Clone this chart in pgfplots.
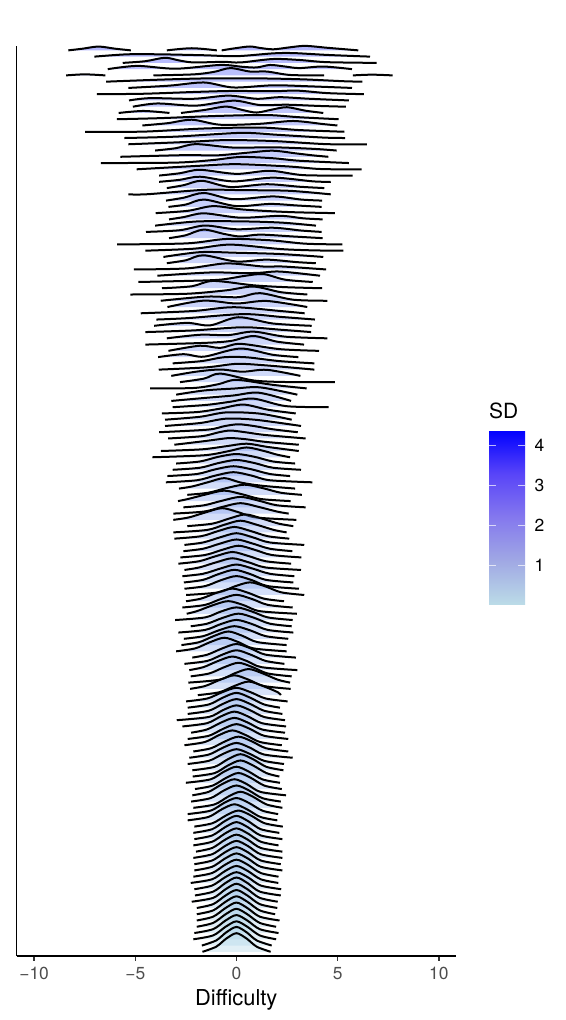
\documentclass[border=0pt]{standalone}
\usepackage{pgfplots}
\pgfplotsset{compat=1.18}
\usepackage{fontspec}
\setmainfont{TeX Gyre Heros}
\definecolor{cbase}{RGB}{173,216,230}
\definecolor{ticklab}{RGB}{77,77,77}
\definecolor{tickcol}{RGB}{51,51,51}
% one ridge: #1 row, #2 percent of blue, #3 points (x, density above the row)
\newcommand\R[3]{%
  \addplot[fill=blue!#2!cbase, fill opacity=.34, draw=none, smooth, forget plot, y filter/.expression={y+#1}] coordinates {#3};
  \addplot[black, line width=2bp, smooth, forget plot, y filter/.expression={y+#1}] coordinates {#3};
}
\begin{document}
\begin{tikzpicture}
\useasboundingbox (0,0) rectangle (566bp,1020bp);
\begin{axis}[
  at={(16.5bp,64bp)}, anchor=south west,
  scale only axis, width=439.5bp, height=910bp,
  xmin=-10.87, xmax=10.85, ymin=0.36, ymax=145.73,
  axis x line*=bottom, axis y line*=left,
  axis line style={line width=1.8bp},
  clip=false,
  ytick=\empty,
  xtick={-10,-5,0,5,10},
  xticklabels={−10,−5,0,5,10},
  xticklabel style={font=\fontsize{17.5}{20}\selectfont, text=ticklab, yshift=-3bp},
  tick align=outside, tick style={tickcol, line width=1.4bp}, major tick length=5bp,
  xlabel={Difficulty},
  xlabel style={font=\fontsize{22}{26}\selectfont, yshift=-2bp},
  colormap={sd}{rgb255=(187,219,231) rgb255=(160,168,228) rgb255=(132,120,238) rgb255=(88,68,248) rgb255=(0,0,255)},
  point meta min=0.03, point meta max=4.375,
  colorbar,
  colorbar/width=36bp,
  colorbar style={
    at={(1.0751,0.578)}, anchor=north west,
    scale only axis, height=174bp,
    axis line style={draw=none},
    ytick={1,2,3,4}, yticklabels={1,2,3,4},
    yticklabel pos=right,
    yticklabel style={font=\fontsize{17.5}{20}\selectfont, text=black, xshift=6bp},
    tick align=inside, ytick pos=both, major tick length=7bp,
    tick style={white, line width=.8bp, opacity=.7},
  },
]
\R{145}{80}{(-8.31,.03)(-7.6,.3)(-6.82,.64)(-6,.3)(-5.22,.03)}
\R{145}{80}{(-3.44,.03)(-2.8,.25)(-2.21,.37)(-1.6,.25)(-.97,.03)}
\R{145}{80}{(-.73,.03)(0,.4)(.67,.65)(1.2,.4)(1.82,.2)(2.6,.5)(3.39,.75)(4.46,.45)(5.2,.25)(6.02,.03)}
\R{144}{76}{(-7.02,.03)(-5.4,.4)(-3.8,.4)(-1.6,.25)(0,.1)(1.8,.55)(2.8,.6)(4.5,.3)(6.6,.03)}
\R{143}{72}{(-5.62,.03)(-4.5,.3)(-3.53,.85)(-2.8,.4)(-2.1,.1)(-.65,.2)(.2,.1)(1.8,.65)(3.1,.5)(4.45,.15)(6.93,.03)}
\R{142}{70}{(-6.36,.03)(-4.9,.55)(-3,.1)(-.8,.7)(.3,.4)(1,.3)(1.66,.7)(2.4,.45)(3.1,.2)(4.3,.45)(5.71,.03)}
\R{141}{68}{(-8.42,.03)(-7.5,.2)(-6.48,.03)}
\R{141}{68}{(-4.1,.03)(-2.1,.2)(-1.1,.6)(-.3,1.2)(.67,.65)(1.5,.65)(2.65,.1)(4.33,.03)}
\R{141}{68}{(5.75,.03)(6.7,.15)(7.72,.03)}
\R{140}{66}{(-6.44,.03)(-3.8,.35)(-1.5,.55)(1.2,.55)(3.3,.4)(5.3,.1)(6.22,.03)}
\R{139}{64}{(-5.34,.03)(-3.3,.4)(-1.6,.9)(-.15,.1)(1.8,.45)(3.5,.3)(5.71,.03)}
\R{138}{62}{(-6.9,.03)(-4.6,.1)(-1.96,.4)(-.15,.55)(1.8,.5)(3,.6)(4.5,.2)(6.3,.03)}
\R{137}{60}{(-5.31,.03)(-4.27,.4)(-2.1,.3)(-.4,.8)(1,.3)(2.15,.55)(3.6,.3)(5.56,.03)}
\R{136}{60}{(-5.12,.03)(-3.9,.55)(-2,.2)(-.15,1)(1.15,.3)(2.5,.35)(4.1,.15)(5.41,.03)}
\R{135}{58}{(-5.82,.03)(-4.6,.35)(-3.31,.03)}
\R{135}{58}{(-2.74,.03)(-1.6,.5)(-.5,1.05)(.3,.5)(1,.1)(1.8,.6)(2.5,.95)(3.4,.4)(4.29,.03)}
\R{134}{56}{(-5.91,.03)(-3.8,.2)(-1,.55)(1.5,.7)(3.1,.35)(5.05,.03)}
\R{133}{56}{(-4.65,.03)(-3.4,.4)(-2.2,.95)(-.8,.15)(1.15,.3)(2.8,.75)(4.3,.25)(4.99,.03)}
\R{132}{54}{(-7.48,.03)(-4.6,.05)(-1.6,.55)(1.2,.7)(3.1,.3)(5.33,.03)}
\R{131}{54}{(-5.54,.03)(-3,.25)(.2,.85)(2,.55)(4.3,.1)(5.37,.03)}
\R{130}{52}{(-5.34,.03)(-2.45,.4)(-.5,.7)(1.8,.55)(4.45,.05)(6.44,.03)}
\R{129}{52}{(-4.02,.03)(-3,.4)(-2,1.05)(-.15,.5)(1.8,.55)(3.8,.3)(4.95,.03)}
\R{128}{50}{(-5.74,.03)(-2.45,.3)(-1,.25)(.6,.7)(1.8,1)(3,.55)(3.8,.25)(4.54,.03)}
\R{127}{50}{(-6.7,.03)(-3,.1)(-1.2,.5)(.2,1)(1.8,.8)(3.1,.4)(5.56,.03)}
\R{126}{50}{(-4.93,.03)(-1.8,.6)(0,.85)(2.5,.5)(4,.1)(5,.03)(6.19,.03)}
\R{125}{48}{(-3.82,.03)(-2.8,.4)(-1.8,.95)(0,.3)(1.66,.8)(3.3,.1)(5.74,.03)}
\R{124}{48}{(-3.82,.03)(-2.8,.35)(-1.8,.85)(-.15,.1)(1.8,.7)(3.8,.1)(4.66,.03)}
\R{123}{48}{(-3.44,.03)(-2.6,.5)(-1.7,1.2)(-.3,.2)(1.5,.65)(3.1,.25)(4.34,.03)}
\R{122}{48}{(-5.34,.03)(-4.4,.05)(-1.6,.75)(.3,.7)(2.6,.6)(4.66,.03)}
\R{121}{46}{(-3.48,.03)(-2.6,.5)(-1.6,1.25)(-.15,.25)(1.8,.7)(3.2,.2)(4.23,.03)}
\R{120}{46}{(-3.36,.03)(-2.5,.4)(-1.6,1.2)(0,.15)(1.65,.5)(3,.25)(4.21,.03)}
\R{119}{46}{(-3.99,.03)(-2.4,.4)(-1.15,1.15)(.35,.6)(2.6,.2)(4.86,.03)}
\R{118}{46}{(-3.33,.03)(-2.6,.4)(-1.6,1)(.2,.3)(2.15,.6)(3.3,.2)(4.26,.03)}
\R{117}{44}{(-4.02,.03)(-1.95,.7)(.5,.7)(2.3,.5)(3.93,.03)}
\R{116}{44}{(-4.47,.03)(-2.8,.3)(-1.55,1.05)(0,.45)(1.8,.7)(3.2,.25)(4.21,.03)}
\R{115}{44}{(-3.33,.03)(-2.5,.5)(-1.63,1.4)(-.6,.7)(.18,.3)(1.16,.6)(2.8,.3)(4.26,.03)}
\R{114}{44}{(-5.9,.03)(-2.45,.2)(-.5,.9)(1.65,.7)(3.4,.15)(5.23,.03)}
\R{113}{44}{(-4.5,.03)(-2.1,.35)(-.3,1)(2.15,.3)(3.8,.08)(5.28,.03)}
\R{112}{42}{(-3.61,.03)(-1.8,.8)(0,.7)(2.15,.5)(4.29,.03)}
\R{111}{42}{(-3.44,.03)(-2.5,.5)(-1.63,1.3)(0,.3)(1.5,.6)(3,.2)(3.92,.03)}
\R{110}{42}{(-5.07,.03)(-2.45,.2)(-.5,1)(1.33,.5)(2.3,.5)(4.43,.03)}
\R{109}{42}{(-3.91,.03)(-1.3,.55)(.3,.45)(1.16,.5)(2.15,.7)(4.13,.03)}
\R{108}{40}{(-4.85,.03)(-2.45,.2)(-.8,.4)(.4,1)(1.33,1.3)(2.4,.4)(3.77,.03)}
\R{107}{40}{(-3.68,.03)(-2.2,.35)(-1.15,1.2)(.84,.5)(2.45,.2)(4.23,.03)}
\R{106}{40}{(-5.24,.03)(-2.45,.15)(-.5,.7)(.84,1.3)(2.2,.4)(3.5,.03)}
\R{105}{40}{(-3.74,.03)(-1.47,.7)(.1,.6)(1.16,1.25)(2.8,.2)(4.49,.03)}
\R{104}{40}{(-3.41,.03)(-1.63,1.05)(0,.6)(1.5,1)(3.5,.03)}
\R{103}{38}{(-4.73,.03)(-2.1,.4)(-.15,1)(2.15,.4)(3.37,.03)}
\R{102}{38}{(-3.96,.03)(-2.45,.25)(.34,.9)(2.2,.45)(3.88,.03)}
\R{101}{38}{(-4.07,.03)(-2.45,.5)(-1.3,.1)(.1,1.4)(1.8,.4)(3.72,.03)}
\R{100}{38}{(-4.5,.03)(-2.1,.3)(.34,.8)(2.2,.4)(3.69,.03)}
\R{99}{38}{(-3.44,.03)(-1.8,.6)(-.4,.55)(.84,1.1)(2.4,.3)(4.49,.03)}
\R{98}{36}{(-4.5,.03)(-1.6,.3)(-.3,.6)(.84,1.4)(2,.5)(3.34,.03)}
\R{97}{36}{(-3.36,.03)(-1.8,.85)(-.8,.5)(.18,1.15)(2.15,.3)(4.08,.03)}
\R{96}{36}{(-3.87,.03)(-2.6,.5)(-1.6,.1)(.18,1.4)(1.8,.4)(3.06,.03)}
\R{95}{36}{(-3.15,.03)(-1.7,.4)(-.65,1)(.5,1)(2.1,.4)(3.85,.03)}
\R{94}{36}{(-3.84,.03)(-1.47,.4)(0,.95)(1.5,.7)(3.85,.03)}
\R{93}{34}{(-3.22,.03)(-2,.7)(-.8,1.05)(.3,.7)(1.5,1)(3.16,.03)}
\R{92}{34}{(-2.79,.03)(-1.6,.6)(-.8,1.4)(.84,.3)(2.45,.05)(4.86,.03)}
\R{91}{34}{(-4.27,.03)(-2.1,.1)(-.9,.7)(0,1.4)(1.8,.6)(3.47,.03)}
\R{90}{34}{(-2.98,.03)(-1.6,.7)(-.15,1)(1.16,1.2)(3.01,.03)}
\R{89}{34}{(-3.22,.03)(-1.6,.5)(-.15,.9)(1.09,1.35)(2.70,.03)}
\R{88}{32}{(-3.15,.03)(-1.47,.4)(-.3,.9)(.84,1.4)(2.45,.2)(4.56,.03)}
\R{87}{32}{(-3.69,.03)(-1.96,.25)(-.8,.8)(.34,1.45)(1.6,.6)(2.93,.03)}
\R{86}{32}{(-3.53,.03)(-1.8,.5)(-.5,1.2)(1.16,1)(2.73,.03)}
\R{85}{32}{(-3.53,.03)(-1.8,.5)(-.5,1.2)(1,1)(3.19,.03)}
\R{84}{32}{(-3.82,.03)(-1.4,.45)(-.6,1)(.1,1.3)(.9,1)(1.8,.5)(3.03,.03)}
\R{83}{31}{(-3.38,.03)(-1.7,.4)(-.9,1)(-.3,1.3)(.5,1)(1.4,.6)(3.42,.03)}
\R{82}{31}{(-3.07,.03)(-1.6,.6)(-.9,.9)(-.3,1.1)(.5,.9)(1.4,.5)(3.08,.03)}
\R{81}{31}{(-3.73,.03)(-1.7,.3)(-.5,.8)(.5,1.2)(1.5,.7)(3.08,.03)}
\R{80}{30}{(-4.15,.03)(-1.6,.35)(-.4,1)(.5,1.6)(1.4,1)(2,.45)(2.65,.03)}
\R{79}{30}{(-2.98,.03)(-1.8,.36)(-.9,1.1)(0,1.55)(.9,1.1)(1.8,.36)(2.9,.03)}
\R{78}{30}{(-3.15,.03)(-1.8,.36)(-.9,1.1)(0,1.6)(.9,1.1)(1.8,.36)(3.19,.03)}
\R{77}{30}{(-3.41,.03)(-1.95,.36)(-1.05,1.1)(-.15,1.6)(.75,1.1)(1.65,.36)(2.65,.03)}
\R{76}{30}{(-3.49,.03)(-1.95,.36)(-1.05,1.1)(-.15,1.65)(.75,1.1)(1.65,.36)(3.75,.03)}
\R{75}{29}{(-2.84,.03)(-2.2,.36)(-1.4,1.05)(-.6,1.7)(.2,1)(1.2,.5)(2.9,.03)}
\R{74}{29}{(-2.43,.03)(-1.4,.36)(-.5,1.1)(.4,1.65)(1.3,1.1)(2.2,.36)(3.23,.03)}
\R{73}{29}{(-2.89,.03)(-2.4,.36)(-1.5,1.1)(-.6,1.7)(.3,1.1)(1.2,.36)(2.68,.03)}
\R{72}{28}{(-2.62,.03)(-1.6,.36)(-.7,1.1)(.2,1.7)(1.1,1.1)(2,.36)(3.42,.03)}
\R{71}{28}{(-3.12,.03)(-1.6,.36)(-.7,1.1)(.2,1.7)(1.1,1.1)(2,.36)(2.58,.03)}
\R{70}{28}{(-3.12,.03)(-2.35,.42)(-1.5,1.25)(-.7,1.9)(.1,1.25)(.95,.42)(2.96,.03)}
\R{69}{28}{(-2.43,.03)(-1.2,.42)(-.35,1.25)(.45,1.9)(1.25,1.25)(2.1,.42)(2.81,.03)}
\R{68}{27}{(-3.12,.03)(-1.45,.42)(-.6,1.25)(.2,1.9)(1,1.25)(1.85,.42)(2.48,.03)}
\R{67}{27}{(-3.07,.03)(-1.75,.42)(-.9,1.25)(-.1,1.9)(.7,1.25)(1.55,.42)(2.61,.03)}
\R{66}{27}{(-2.57,.03)(-1.65,.42)(-.8,1.25)(0,1.9)(.8,1.25)(1.65,.42)(3.35,.03)}
\R{65}{27}{(-2.62,.03)(-1.65,.42)(-.8,1.25)(0,1.9)(.8,1.25)(1.65,.42)(2.76,.03)}
\R{64}{27}{(-2.77,.03)(-1.55,.42)(-.7,1.25)(.1,1.9)(.9,1.25)(1.75,.42)(3.21,.03)}
\R{63}{26}{(-2.87,.03)(-1.85,.42)(-1,1.25)(-.2,1.9)(.6,1.25)(1.45,.42)(2.7,.03)}
\R{62}{26}{(-2.57,.03)(-1.85,.42)(-1,1.25)(-.2,1.9)(.6,1.25)(1.45,.42)(3.19,.03)}
\R{61}{26}{(-2.67,.03)(-1.65,.42)(-.8,1.25)(0,1.9)(.8,1.25)(1.65,.42)(2.86,.03)}
\R{60}{26}{(-2.6,.03)(-1.65,.45)(-.86,1.4)(-.1,2.05)(.66,1.4)(1.45,.45)(2.81,.03)}
\R{59}{26}{(-2.57,.03)(-1.55,.45)(-.76,1.4)(0,2.05)(.76,1.4)(1.55,.45)(3.09,.03)}
\R{58}{25}{(-2.49,.03)(-.88,.45)(-.09,1.4)(.67,2.05)(1.43,1.4)(2.22,.45)(3.35,.03)}
\R{57}{25}{(-2.49,.03)(-1.75,.45)(-.96,1.4)(-.2,2.05)(.56,1.4)(1.35,.45)(2.35,.03)}
\R{56}{25}{(-2.67,.03)(-1.55,.45)(-.76,1.4)(0,2.05)(.76,1.4)(1.55,.45)(2.78,.03)}
\R{55}{25}{(-2.46,.03)(-1.95,.45)(-1.16,1.4)(-.4,2.05)(.36,1.4)(1.15,.45)(2.99,.03)}
\R{54}{25}{(-3.03,.03)(-1.55,.45)(-.76,1.4)(0,2.05)(.76,1.4)(1.55,.45)(2.78,.03)}
\R{53}{24}{(-2.26,.03)(-1.45,.45)(-.66,1.4)(.1,2.05)(.86,1.4)(1.65,.45)(2.73,.03)}
\R{52}{24}{(-2.87,.03)(-1.55,.45)(-.76,1.4)(0,2.05)(.76,1.4)(1.55,.45)(2.81,.03)}
\R{51}{24}{(-2.6,.03)(-1.65,.45)(-.86,1.4)(-.1,2.05)(.66,1.4)(1.45,.45)(2.56,.03)}
\R{50}{24}{(-2.72,.03)(-1.84,.5)(-1.1,1.5)(-.4,2.2)(.3,1.5)(1.04,.5)(2.48,.03)}
\R{49}{24}{(-2.98,.03)(-2.04,.5)(-1.3,1.5)(-.6,2.2)(.1,1.5)(.84,.5)(2.48,.03)}
\R{48}{23}{(-2.18,.03)(-1.44,.5)(-.7,1.5)(0,2.2)(.7,1.5)(1.44,.5)(2.94,.03)}
\R{47}{23}{(-2.57,.03)(-1.44,.5)(-.7,1.5)(0,2.2)(.7,1.5)(1.44,.5)(2.37,.03)}
\R{46}{23}{(-2.33,.03)(-1.64,.5)(-.9,1.5)(-.2,2.2)(.5,1.5)(1.24,.5)(3.01,.03)}
\R{45}{23}{(-2.26,.03)(-1.34,.5)(-.6,1.5)(.1,2.2)(.8,1.5)(1.54,.5)(2.73,.03)}
\R{44}{22}{(-2.38,.03)(-.84,.5)(-.1,1.5)(.6,2.2)(1.3,1.5)(2.04,.5)(2.65,.03)}
\R{43}{22}{(-2.29,.03)(-1.54,.5)(-.8,1.5)(-.1,2.2)(.6,1.5)(1.34,.5)(2.68,.03)}
\R{42}{22}{(-1.91,.03)(-.84,.5)(-.1,1.5)(.6,2.2)(1.3,1.5)(2.04,.5)(2.19,.03)}
\R{41}{22}{(-2.49,.03)(-1.44,.5)(-.7,1.5)(0,2.2)(.7,1.5)(1.44,.5)(2.53,.03)}
\R{40}{21}{(-2.41,.03)(-1.36,.55)(-.66,1.65)(0,2.4)(.66,1.65)(1.36,.55)(2.15,.03)}
\R{39}{21}{(-2.41,.03)(-1.36,.55)(-.66,1.65)(0,2.4)(.66,1.65)(1.36,.55)(2.27,.03)}
\R{38}{21}{(-2.95,.03)(-1.36,.55)(-.66,1.65)(0,2.4)(.66,1.65)(1.36,.55)(2.4,.03)}
\R{37}{21}{(-2.67,.03)(-1.46,.55)(-.76,1.65)(-.1,2.4)(.56,1.65)(1.26,.55)(2.45,.03)}
\R{36}{20}{(-2.24,.03)(-1.46,.55)(-.76,1.65)(-.1,2.4)(.56,1.65)(1.26,.55)(2.4,.03)}
\R{35}{20}{(-2.41,.03)(-1.36,.55)(-.66,1.65)(0,2.4)(.66,1.65)(1.36,.55)(2.56,.03)}
\R{34}{20}{(-2.57,.03)(-1.56,.55)(-.86,1.65)(-.2,2.4)(.46,1.65)(1.16,.55)(2.24,.03)}
\R{33}{20}{(-2.13,.03)(-1.26,.55)(-.56,1.65)(.1,2.4)(.76,1.65)(1.46,.55)(2.56,.03)}
\R{32}{19}{(-2.33,.03)(-1.36,.55)(-.66,1.65)(0,2.4)(.66,1.65)(1.36,.55)(2.78,.03)}
\R{31}{19}{(-2.41,.03)(-1.36,.55)(-.66,1.65)(0,2.4)(.66,1.65)(1.36,.55)(2.35,.03)}
\R{30}{18}{(-2.18,.03)(-1.08,.58)(-.42,1.8)(.2,2.6)(.82,1.8)(1.48,.58)(2.32,.03)}
\R{29}{18}{(-2.16,.03)(-1.08,.58)(-.42,1.8)(.2,2.6)(.82,1.8)(1.48,.58)(2.12,.03)}
\R{28}{18}{(-2.5,.03)(-1.28,.58)(-.62,1.8)(0,2.6)(.62,1.8)(1.28,.58)(2.15,.03)}
\R{27}{17}{(-2.05,.03)(-1.18,.58)(-.52,1.8)(.1,2.6)(.72,1.8)(1.38,.58)(2.24,.03)}
\R{26}{17}{(-2.18,.03)(-1.38,.58)(-.72,1.8)(-.1,2.6)(.52,1.8)(1.18,.58)(2.45,.03)}
\R{25}{17}{(-2.24,.03)(-1.28,.58)(-.62,1.8)(0,2.6)(.62,1.8)(1.28,.58)(2.19,.03)}
\R{24}{16}{(-2.13,.03)(-1.08,.58)(-.42,1.8)(.2,2.6)(.82,1.8)(1.48,.58)(2.27,.03)}
\R{23}{16}{(-2.41,.03)(-1.28,.58)(-.62,1.8)(0,2.6)(.62,1.8)(1.28,.58)(2.06,.03)}
\R{22}{16}{(-2.41,.03)(-1.38,.58)(-.72,1.8)(-.1,2.6)(.52,1.8)(1.18,.58)(2.02,.03)}
\R{21}{15}{(-2.08,.03)(-1.18,.58)(-.52,1.8)(.1,2.6)(.72,1.8)(1.38,.58)(2.29,.03)}
\R{20}{15}{(-2.13,.03)(-1.2,.62)(-.58,1.9)(0,2.75)(.58,1.9)(1.2,.62)(2.12,.03)}
\R{19}{15}{(-2.08,.03)(-1.2,.62)(-.58,1.9)(0,2.75)(.58,1.9)(1.2,.62)(2.27,.03)}
\R{18}{14}{(-2.13,.03)(-1.2,.62)(-.58,1.9)(0,2.75)(.58,1.9)(1.2,.62)(2.08,.03)}
\R{17}{14}{(-2,.03)(-1.2,.62)(-.58,1.9)(0,2.75)(.58,1.9)(1.2,.62)(2.27,.03)}
\R{16}{13}{(-2.13,.03)(-1.2,.62)(-.58,1.9)(0,2.75)(.58,1.9)(1.2,.62)(2.27,.03)}
\R{15}{13}{(-2.08,.03)(-1.2,.62)(-.58,1.9)(0,2.75)(.58,1.9)(1.2,.62)(2.19,.03)}
\R{14}{12}{(-2.08,.03)(-1.2,.62)(-.58,1.9)(0,2.75)(.58,1.9)(1.2,.62)(2.27,.03)}
\R{13}{12}{(-2.13,.03)(-1.2,.62)(-.58,1.9)(0,2.75)(.58,1.9)(1.2,.62)(2.08,.03)}
\R{12}{11}{(-2.26,.03)(-1.2,.62)(-.58,1.9)(0,2.75)(.58,1.9)(1.2,.62)(2.07,.03)}
\R{11}{11}{(-2.08,.03)(-1.2,.62)(-.58,1.9)(0,2.75)(.58,1.9)(1.2,.62)(2.21,.03)}
\R{10}{10}{(-2.05,.03)(-1.15,.65)(-.55,2)(0,2.9)(.55,2)(1.15,.65)(2.19,.03)}
\R{9}{10}{(-2.21,.03)(-1.15,.65)(-.55,2)(0,2.9)(.55,2)(1.15,.65)(2.04,.03)}
\R{8}{9}{(-1.96,.03)(-1.15,.65)(-.55,2)(0,2.9)(.55,2)(1.15,.65)(2.02,.03)}
\R{7}{8}{(-1.96,.03)(-1.15,.65)(-.55,2)(0,2.9)(.55,2)(1.15,.65)(1.91,.03)}
\R{6}{7}{(-1.96,.03)(-1.15,.65)(-.55,2)(0,2.9)(.55,2)(1.15,.65)(2.13,.03)}
\R{5}{6}{(-1.96,.03)(-1.15,.65)(-.55,2)(0,2.9)(.55,2)(1.15,.65)(1.96,.03)}
\R{4}{5}{(-2.08,.03)(-1.15,.65)(-.55,2)(0,2.9)(.55,2)(1.15,.65)(2.08,.03)}
\R{3}{4}{(-2.13,.03)(-1.15,.65)(-.55,2)(0,2.9)(.55,2)(1.15,.65)(1.96,.03)}
\R{2}{3}{(-1.71,.03)(-1,.85)(-.5,2.15)(0,3)(.5,2.15)(1,.85)(1.74,.03)}
\R{1}{2}{(-1.68,.03)(-1,.85)(-.5,2.15)(0,3)(.5,2.15)(1,.85)(1.69,.03)}
\node[anchor=south west, inner sep=0pt, font=\fontsize{21}{25}\selectfont] at (rel axis cs:1.0751,0.59) {SD};
\end{axis}
\end{tikzpicture}
\end{document}
